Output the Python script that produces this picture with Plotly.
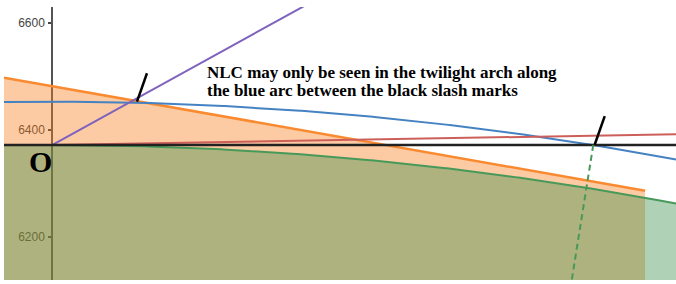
import numpy as np
import plotly.graph_objects as go

# ---- data (km) ----
earth_radius = 6371
nlc_radius = 6452
x_range = [-90.4, 1175]
y_range = [6118.7, 6629]
y_ticks = [6200, 6400, 6600]

orange_x = [-90.4, 1116.8]
orange_y = [6496.8, 6285.6]

red_x = [0, 1175]
red_y = [6371, 6391.2]

purple_x = [0, 480]
purple_y = [6371, 6633.6]

slash_left_x = [160, 178.8]
slash_left_y = [6452, 6505.1]
slash_right_x = [1022, 1040.8]
slash_right_y = [6372, 6425.1]

dash_x = [1019.2, 975.7]
dash_y = [6371, 6100]

note_lines = ["NLC may only be seen in the twilight arch along",
              "the blue arc between the black slash marks"]
note_x = 289
note_y = [6506.5, 6473.5]

RED, BLUE, GREEN, PURPLE, ORANGE = "#cd5f5b", "#4482c2", "#47995a", "#7e62bd", "#f98a30"

xs = np.linspace(x_range[0], x_range[1], 500)
earth_y = np.sqrt(earth_radius ** 2 - xs ** 2)
nlc_y = np.sqrt(nlc_radius ** 2 - xs ** 2)
floor = 6000

fig = go.Figure()

# orange shadow fill
fig.add_trace(go.Scatter(
    x=[orange_x[0], orange_x[1], orange_x[1], orange_x[0]],
    y=[orange_y[0], orange_y[1], floor, floor],
    fill="toself", fillcolor="rgba(250,126,25,0.4)", line=dict(width=0),
    mode="lines", hoverinfo="skip"))
# earth fill
fig.add_trace(go.Scatter(
    x=list(xs) + [xs[-1], xs[0]], y=list(earth_y) + [floor, floor],
    fill="toself", fillcolor="rgba(56,140,70,0.4)", line=dict(width=0),
    mode="lines", hoverinfo="skip"))

# earth surface line
mask = xs >= 0
fig.add_trace(go.Scatter(x=xs[mask], y=earth_y[mask], mode="lines",
                         line=dict(color=GREEN, width=2)))
# orange line
fig.add_trace(go.Scatter(x=orange_x, y=orange_y, mode="lines",
                         line=dict(color=ORANGE, width=2.5)))
# NLC arc
fig.add_trace(go.Scatter(x=xs, y=nlc_y, mode="lines",
                         line=dict(color=BLUE, width=2)))
# red
fig.add_trace(go.Scatter(x=red_x, y=red_y, mode="lines",
                         line=dict(color=RED, width=2)))
# purple
fig.add_trace(go.Scatter(x=purple_x, y=purple_y, mode="lines",
                         line=dict(color=PURPLE, width=2)))
# horizon line
fig.add_trace(go.Scatter(x=x_range, y=[earth_radius, earth_radius], mode="lines",
                         line=dict(color="#222222", width=2.5)))
# dashed radial
fig.add_trace(go.Scatter(x=dash_x, y=dash_y, mode="lines",
                         line=dict(color=GREEN, width=2, dash="6px,4px")))
# slashes
for sx, sy in [(slash_left_x, slash_left_y), (slash_right_x, slash_right_y)]:
    fig.add_trace(go.Scatter(x=sx, y=sy, mode="lines",
                             line=dict(color="black", width=2.5)))

for txt, ty in zip(note_lines, note_y):
    fig.add_annotation(x=note_x, y=ty, text="<b>%s</b>" % txt, showarrow=False,
                       xanchor="left", yanchor="middle",
                       font=dict(family="Liberation Serif", size=17, color="black"))

fig.add_annotation(x=-22.6, y=6341, text="<b>O</b>", showarrow=False,
                   xanchor="center", yanchor="middle",
                   font=dict(family="Liberation Serif", size=30, color="black"))

axpos = (0 - x_range[0]) / (x_range[1] - x_range[0])

fig.update_layout(
    width=676, height=284,
    margin=dict(l=4, r=0, t=7, b=4),
    paper_bgcolor="white", plot_bgcolor="white",
    showlegend=False,
    xaxis=dict(range=x_range, visible=False, domain=[0, 1]),
    yaxis=dict(range=y_range, anchor="free", position=axpos,
               showline=True, linecolor="#555555", linewidth=1.5,
               ticks="outside", ticklen=3, tickwidth=1.5, tickcolor="#444444",
               tickvals=y_ticks, ticklabelstandoff=1,
               tickfont=dict(family="Liberation Sans", size=12, color="#444444"),
               showgrid=False, zeroline=False, layer="below traces"),
    yaxis2=dict(range=y_range, overlaying="y", anchor="free", position=axpos,
                showline=False, ticks="inside", ticklen=3, tickwidth=1.5,
                tickcolor="#444444", tickvals=y_ticks, showticklabels=False,
                showgrid=False, zeroline=False, layer="below traces"),
)

fig.write_html("out.html", config={"displayModeBar": False},
               post_script="document.body.style.margin='0';document.body.style.overflow='hidden';")
